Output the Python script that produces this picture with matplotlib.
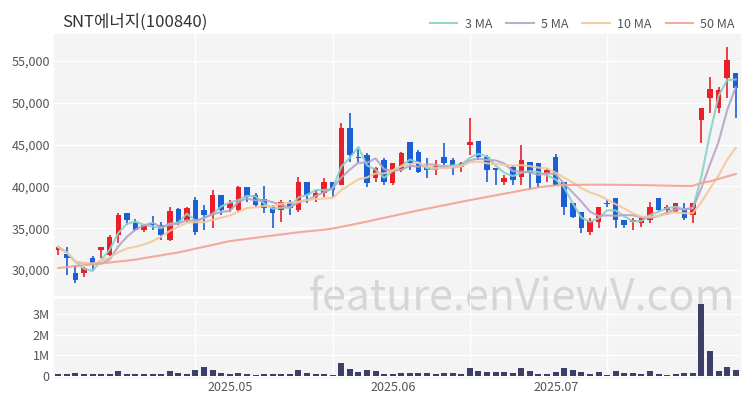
import pandas as pd
import numpy as np
import matplotlib.pyplot as plt
from matplotlib.patches import Rectangle

# Fonte com suporte a coreano
plt.rcParams['font.family'] = ['Noto Sans CJK KR', 'DejaVu Sans']

# Dias de pregão (KRX) de 03/04 a 30/07/2025, sem os feriados
datas = pd.bdate_range('2025-04-03', '2025-07-30')
feriados = pd.to_datetime(['2025-05-01', '2025-05-05', '2025-05-06', '2025-06-03', '2025-06-06'])
datas = datas[~datas.isin(feriados)]

# Dados (preço em won)
aberturas = [32400, 31900, 29650, 29650, 31400, 32400, 31800, 34200, 36800, 35600,
             34800, 35600, 35400, 33600, 37300, 36000, 38400, 37200, 36600, 39000,
             37400, 37200, 39900, 39000, 38500, 37500, 37200, 38150, 37200, 40500,
             38750, 39200, 40500, 40150, 47000, 43550, 43750, 41000, 43150, 40400,
             41950, 45300, 44100, 42300, 41950, 43550, 43150, 42300, 44950, 45450,
             43550, 42200, 40500, 42300, 41100, 42900, 42800, 41600, 43500, 40500,
             38000, 36900, 34550, 35750, 38000, 38600, 36000, 35750, 35650, 36000,
             38600, 37200, 36950, 37400, 36600, 47950, 50550, 49350, 53000, 53550]
maximas = [32800, 32750, 30600, 30350, 31700, 32750, 34200, 36800, 36800, 36100,
           35400, 36500, 35750, 37500, 37400, 37500, 38750, 37800, 39550, 39000,
           38400, 40050, 39900, 39200, 40050, 37800, 38400, 38400, 41100, 40500,
           39550, 41000, 40500, 47600, 48750, 44600, 44000, 42300, 43400, 42800,
           44100, 45300, 44350, 43400, 43150, 45200, 43400, 42900, 48200, 45450,
           43750, 42200, 41350, 42550, 44950, 42900, 42800, 42200, 43900, 40500,
           38000, 36900, 36200, 37500, 38400, 38600, 36000, 36200, 36300, 38150,
           38600, 37800, 38000, 38000, 38000, 49350, 53100, 51850, 56700, 53550]
minimas = [31800, 29400, 28450, 29150, 30000, 31450, 31700, 33200, 35400, 34650,
           34550, 34800, 33600, 33500, 35400, 35750, 34200, 34800, 35000, 36600,
           36900, 36900, 38150, 37500, 36800, 35000, 35750, 36600, 36900, 38000,
           38150, 38700, 38700, 40150, 42900, 42800, 39900, 40500, 40150, 40150,
           41700, 41950, 41600, 41000, 41350, 42550, 41350, 41700, 43750, 43150,
           40500, 40150, 40150, 40150, 40150, 39550, 39900, 40500, 40150, 36600,
           36200, 34400, 34200, 35000, 37500, 35000, 35000, 34800, 35150, 35650,
           37050, 36600, 36800, 36000, 35600, 45200, 48800, 48800, 50600, 48200]
fechamentos = [32750, 31400, 28800, 30250, 30600, 32750, 33950, 36600, 36000, 34800,
               35400, 35400, 34200, 37050, 35750, 37400, 34550, 36600, 39000, 37200,
               38000, 39900, 38700, 37800, 37400, 36800, 38150, 37400, 40500, 39000,
               39200, 40500, 39550, 47000, 43750, 43400, 40400, 42200, 40500, 42800,
               44000, 42800, 41700, 41950, 42500, 42800, 42200, 42800, 45300, 43550,
               41950, 41950, 41000, 40750, 43150, 41600, 40400, 41950, 40150, 37500,
               36300, 35000, 36000, 37500, 37900, 36000, 35400, 36000, 36200, 37500,
               37200, 37500, 38000, 36200, 38000, 49350, 51600, 51500, 55100, 51750]
# Volume em milhões de ações
volumes = [0.10, 0.10, 0.13, 0.08, 0.08, 0.08, 0.10, 0.23, 0.10, 0.08,
           0.08, 0.08, 0.08, 0.22, 0.13, 0.08, 0.27, 0.42, 0.27, 0.15,
           0.08, 0.13, 0.08, 0.05, 0.10, 0.10, 0.08, 0.08, 0.30, 0.13,
           0.10, 0.08, 0.05, 0.63, 0.33, 0.17, 0.30, 0.22, 0.10, 0.08,
           0.13, 0.13, 0.13, 0.13, 0.10, 0.15, 0.13, 0.08, 0.37, 0.23,
           0.20, 0.18, 0.18, 0.13, 0.38, 0.22, 0.08, 0.08, 0.20, 0.37,
           0.27, 0.17, 0.10, 0.17, 0.05, 0.22, 0.15, 0.12, 0.10, 0.23,
           0.08, 0.03, 0.10, 0.13, 0.13, 3.50, 1.22, 0.25, 0.45, 0.30]
# Média de 50 dias (depende de pregões anteriores ao período)
media50 = [30240, 30350, 30460, 30570, 30680, 30790, 30900, 31010, 31120, 31240,
           31420, 31590, 31760, 31940, 32100, 32320, 32550, 32780, 33000, 33230,
           33460, 33590, 33720, 33850, 33990, 34120, 34250, 34380, 34510, 34620,
           34720, 34830, 34960, 35160, 35370, 35580, 35790, 36020, 36240, 36460,
           36690, 36910, 37130, 37340, 37540, 37750, 37950, 38160, 38360, 38550,
           38740, 38930, 39120, 39310, 39510, 39700, 39890, 40020, 40110, 40170,
           40180, 40190, 40200, 40200, 40200, 40190, 40180, 40170, 40150, 40130,
           40110, 40090, 40070, 40050, 40060, 40420, 40600, 40900, 41190, 41480]

df = pd.DataFrame({'open': aberturas, 'high': maximas, 'low': minimas,
                   'close': fechamentos, 'vol': volumes}, index=datas)

# Médias móveis curtas calculadas a partir dos fechamentos
df['ma3'] = df['close'].rolling(3, min_periods=1).mean()
df['ma5'] = df['close'].rolling(5, min_periods=1).mean()
df['ma10'] = df['close'].rolling(10, min_periods=1).mean()
df['ma50'] = media50

vermelho = '#ea1f28'
azul = '#1a5fd6'
fundo = '#f4f4f4'
cor_texto = '#555555'

fig = plt.figure(figsize=(7.5, 4), dpi=100)
ax = fig.add_axes([54 / 750, 1 - 295 / 400, 686 / 750, 261 / 400])
axv = fig.add_axes([54 / 750, 1 - 377 / 400, 686 / 750, 78 / 400])

# Fundo dos painéis (atrás da marca d'água)
for a in (ax, axv):
    a.patch.set_visible(False)
    pos = a.get_position()
    fig.add_artist(Rectangle((pos.x0, pos.y0), pos.width, pos.height,
                             transform=fig.transFigure, color=fundo, zorder=-2))

x = np.arange(len(df))
sobe = df['close'] >= df['open']
cores = np.where(sobe, vermelho, azul)

# Velas
ax.vlines(x, df['low'], df['high'], colors=cores, linewidth=1.2, zorder=2)
corpo = np.maximum((df['close'] - df['open']).abs(), 120)
ax.bar(x, corpo, bottom=np.minimum(df['open'], df['close']), width=0.64,
       color=cores, zorder=2)

# Médias móveis
ax.plot(x, df['ma3'], color='#86d3c8', lw=1.5, alpha=0.9, zorder=3, label='3 MA')
ax.plot(x, df['ma5'], color='#b3a5c9', lw=1.5, alpha=0.9, zorder=3, label='5 MA')
ax.plot(x, df['ma10'], color='#f5c897', lw=1.5, alpha=0.9, zorder=3, label='10 MA')
ax.plot(x, df['ma50'], color='#f5a190', lw=1.5, alpha=0.9, zorder=3, label='50 MA')

# Volume
axv.bar(x, df['vol'], width=0.7, color='#3d3f69', zorder=2)

ax.set_xlim(-0.5, len(df) - 0.5)
axv.set_xlim(-0.5, len(df) - 0.5)
ax.set_ylim(27010, 58230)
axv.set_ylim(-0.05, 3.72)

ax.set_yticks([30000, 35000, 40000, 45000, 50000, 55000])
ax.set_yticklabels([f'{v:,}' for v in [30000, 35000, 40000, 45000, 50000, 55000]])
axv.set_yticks([0, 1, 2, 3])
axv.set_yticklabels(['0', '1M', '2M', '3M'])

# Primeiro pregão de cada mês
meses = df.index.to_period('M')
inicio_mes = [i for i in range(1, len(df)) if meses[i] != meses[i - 1]]
ax.set_xticks([])
axv.set_xticks(inicio_mes)
axv.set_xticklabels([df.index[i].strftime('%Y.%m') for i in inicio_mes])

for a in (ax, axv):
    for s in a.spines.values():
        s.set_visible(False)
    a.tick_params(length=0, labelsize=9, colors=cor_texto, pad=3)
    a.grid(axis='y', color='white', lw=1, zorder=0)
    for g in [16, 32, 48, 64]:
        a.axvline(g, color='white', lw=1, zorder=0)

fig.text(62 / 750, 1 - 22 / 400, 'SNT에너지(100840)', fontsize=12, color='#333333',
         va='center', ha='left')

fig.text(0.98, 0.255, 'feature.enViewV.com', fontsize=31, color='#d6d6d6',
         ha='right', va='center', zorder=-1)

handles, labels = ax.get_legend_handles_labels()
fig.legend(handles, labels, loc='center right', bbox_to_anchor=(0.995, 1 - 24 / 400),
           ncol=4, frameon=False, fontsize=9, handlelength=2.2, columnspacing=1.1,
           handletextpad=0.6, labelcolor=cor_texto)

plt.savefig('out.png', dpi=100)
